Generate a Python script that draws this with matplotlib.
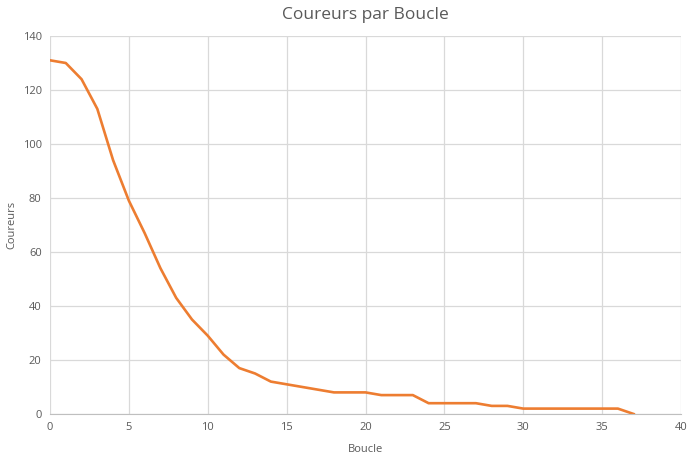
import matplotlib
matplotlib.use('Agg')
import matplotlib.pyplot as plt

# loop number vs. runners still in the race
boucle = list(range(0, 38))
coureurs = [131, 130, 124, 113, 94, 79, 67, 54, 43, 35,
            29, 22, 17, 15, 12, 11, 10, 9, 8, 8,
            8, 7, 7, 7, 4, 4, 4, 4, 3, 3,
            2, 2, 2, 2, 2, 2, 2, 0]

x_ticks = [0, 5, 10, 15, 20, 25, 30, 35, 40]
y_ticks = [0, 20, 40, 60, 80, 100, 120, 140]

plt.rcParams['font.family'] = ['Open Sans', 'DejaVu Sans']
grey = '#595959'

fig = plt.figure(figsize=(6.94, 4.58), dpi=100)
ax = fig.add_axes([50 / 694, 1 - 414 / 458, 631 / 694, 378 / 458])

ax.plot(boucle, coureurs, color='#ED7D31', lw=1.9, solid_joinstyle='round')

ax.set_xlim(0, 40)
ax.set_ylim(0, 140)
ax.set_xticks(x_ticks)
ax.set_yticks(y_ticks)
ax.grid(True, color='#d9d9d9', lw=0.9)
ax.set_axisbelow(True)
ax.tick_params(length=0, labelsize=8, colors=grey, pad=6)

for side in ['top', 'right', 'left']:
    ax.spines[side].set_visible(False)
ax.spines['bottom'].set_color('#bfbfbf')

ax.set_title('Coureurs par Boucle', fontsize=12.5, color=grey, pad=12)
ax.set_xlabel('Boucle', fontsize=8, color=grey, labelpad=8)
ax.set_ylabel('Coureurs', fontsize=8, color=grey, labelpad=4)

fig.savefig('out.png', dpi=100)
